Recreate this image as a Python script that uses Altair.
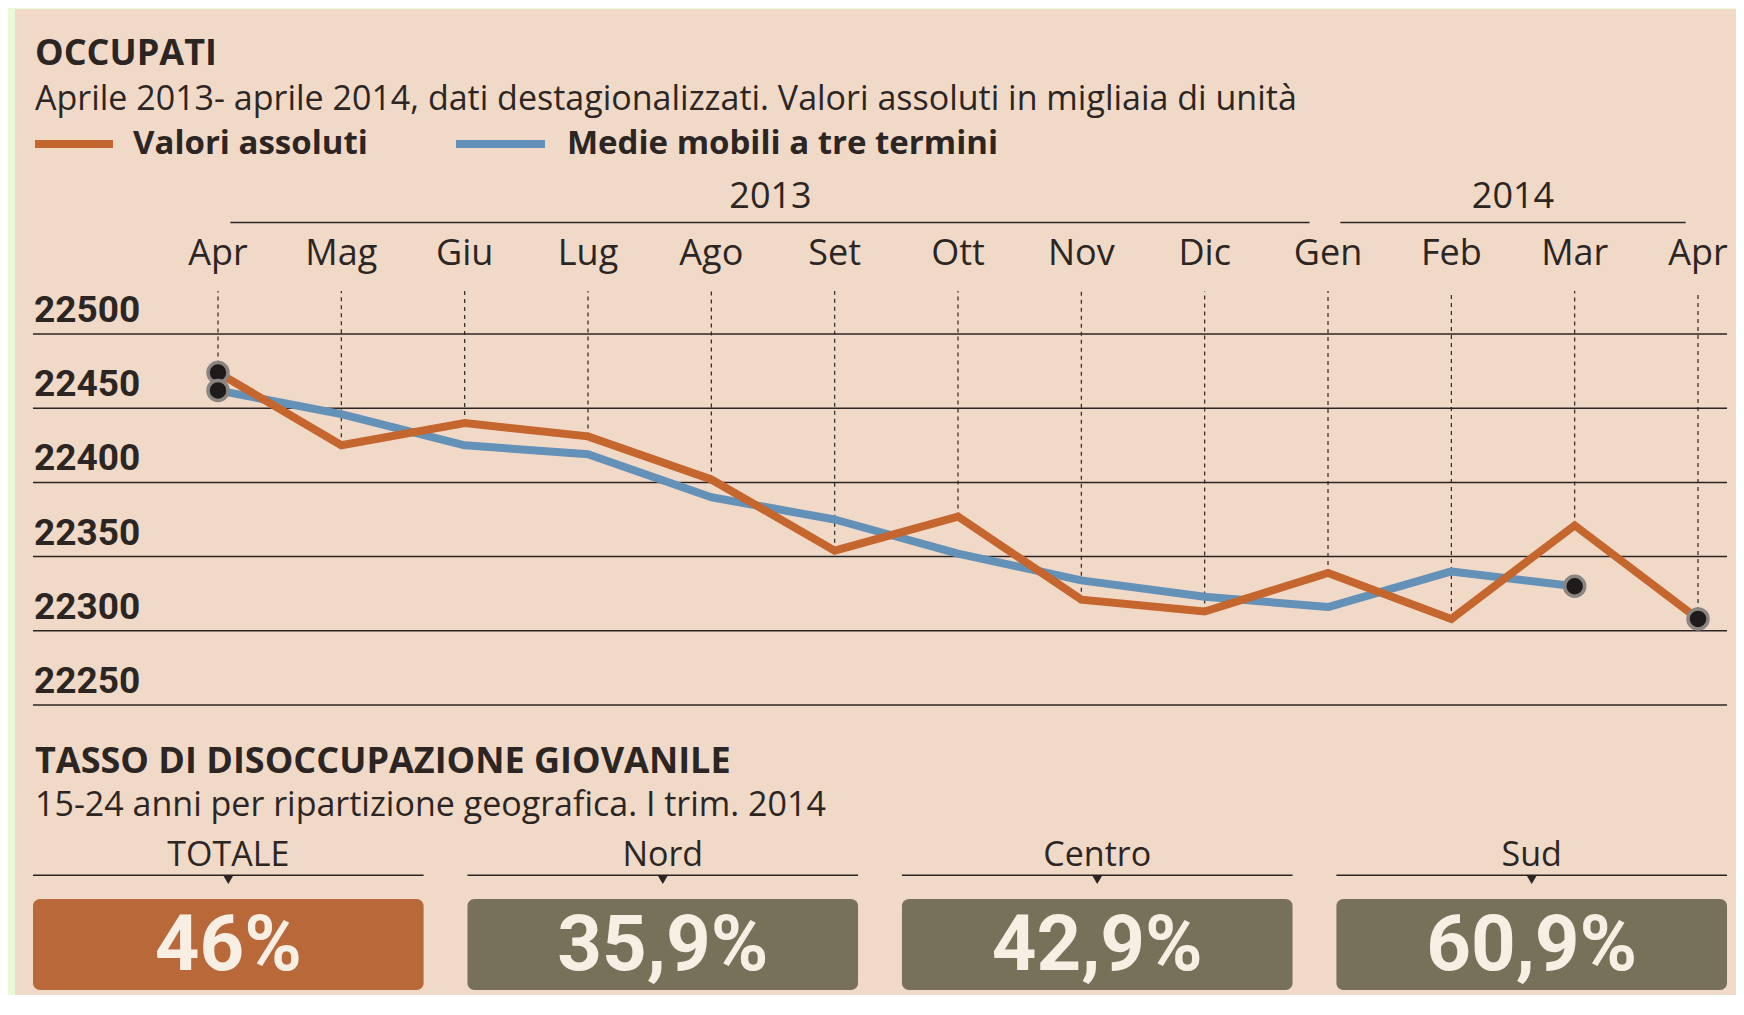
import altair as alt
import pandas as pd

# ---------------- data ----------------
months = ["Apr", "Mag", "Giu", "Lug", "Ago", "Set", "Ott", "Nov", "Dic", "Gen", "Feb", "Mar", "Apr"]
valori_assoluti = [22474, 22425, 22440, 22431, 22402, 22354, 22377, 22321, 22313, 22339, 22308, 22371, 22308]
medie_mobili = [22462, 22446, 22425, 22419, 22390, 22375, 22352, 22334, 22323, 22316, 22340, 22330]
y_ticks = [22250, 22300, 22350, 22400, 22450, 22500]
years = ["2013", "2014"]
year_start = [0.1, 9.1]
year_end = [8.85, 11.9]
year_center = [4.48, 10.5]

regions = ["TOTALE", "Nord", "Centro", "Sud"]
tassi = ["46%", "35,9%", "42,9%", "60,9%"]
tile_colors = ["#B9683A", "#77715A", "#77715A", "#77715A"]

# ---------------- layout ----------------
W, H = 1694, 371
PAD_L, PAD_T = 25, 326
PAD_R = 1728 - PAD_L - W
PAD_B = 987 - PAD_T - H

PAPER = "#F1D9C8"
GREEN = "#E8FAD6"
INK = "#2B2623"
ORANGE = "#C4662E"
BLUE = "#6491B8"
SANS = "Open Sans"
COND = "Roboto"

x_scale = alt.Scale(domain=[-1.5, 12.235], nice=False, zero=False)
y_scale = alt.Scale(domain=[22250, 22500], nice=False, zero=False)

one = pd.DataFrame({"a": [0]})

def label(text, x, y, size, bold=False, align="left", font=SANS, color=INK):
    return alt.Chart(one).mark_text(
        text=text, align=align, baseline="middle", fontSize=size,
        fontWeight="bold" if bold else "normal", font=font, color=color
    ).encode(x=alt.value(x), y=alt.value(y))

df_o = pd.DataFrame({"m": list(range(len(valori_assoluti))), "v": valori_assoluti, "mese": months})
df_b = pd.DataFrame({"m": list(range(len(medie_mobili))), "v": medie_mobili})
df_ticks = pd.DataFrame({"v": y_ticks, "lab": [str(t) for t in y_ticks]})
df_years = pd.DataFrame({"y": years, "s": year_start, "e": year_end, "c": year_center})
df_dots = pd.DataFrame({
    "m": [0, 0, len(medie_mobili) - 1, len(valori_assoluti) - 1],
    "v": [valori_assoluti[0], medie_mobili[0], medie_mobili[-1], valori_assoluti[-1]],
})
df_tiles = pd.DataFrame({"r": regions, "t": tassi, "c": tile_colors})

X = lambda f: alt.X(f, scale=x_scale, axis=None)
Y = lambda f: alt.Y(f, scale=y_scale, axis=None)

paper = alt.Chart(one).mark_rect(color=PAPER).encode(
    x=alt.value(-18), x2=alt.value(W + PAD_R), y=alt.value(-325), y2=alt.value(H + PAD_B))

grid = alt.Chart(df_ticks).mark_rule(color=INK, strokeWidth=1.5).encode(
    y=Y("v:Q"), x=alt.value(0), x2=alt.value(W))

ylabels = alt.Chart(df_ticks).mark_text(
    align="left", baseline="middle", dy=-23, dx=0, fontSize=37, fontWeight="bold",
    font=COND, color=INK).encode(y=Y("v:Q"), x=alt.value(1), text="lab:N")

dashes = alt.Chart(df_o).mark_rule(color=INK, strokeWidth=1.2, strokeDash=[4, 4]).encode(
    x=X("m:Q"), y=Y("v:Q"), y2=alt.value(-43))

mlabels = alt.Chart(df_o).mark_text(fontSize=36, font=SANS, color=INK, baseline="middle").encode(
    x=X("m:Q"), y=alt.value(-80), text="mese:N")

yrules = alt.Chart(df_years).mark_rule(color=INK, strokeWidth=1.5).encode(
    x=X("s:Q"), x2="e:Q", y=alt.value(-111.5))
ylab = alt.Chart(df_years).mark_text(fontSize=36, font=SANS, color=INK, baseline="middle").encode(
    x=X("c:Q"), y=alt.value(-137), text="y:N")

line_b = alt.Chart(df_b).mark_line(color=BLUE, strokeWidth=8, strokeJoin="round").encode(
    x=X("m:Q"), y=Y("v:Q"))
line_o = alt.Chart(df_o).mark_line(color=ORANGE, strokeWidth=8, strokeJoin="miter").encode(
    x=X("m:Q"), y=Y("v:Q"))
dots = alt.Chart(df_dots).mark_point(filled=True, shape="circle", size=400, color="#1E1B1A",
                                     stroke="#8A8580", strokeWidth=3.5, opacity=1).encode(
    x=X("m:Q"), y=Y("v:Q"))

# titles & legend
t1 = label("OCCUPATI", 2, -280, 36, bold=True)
t2 = label("Aprile 2013- aprile 2014, dati destagionalizzati. Valori assoluti in migliaia di unità", 2, -234, 34)
leg_o = alt.Chart(one).mark_rule(color=ORANGE, strokeWidth=8).encode(
    x=alt.value(2), x2=alt.value(80), y=alt.value(-190))
leg_b = alt.Chart(one).mark_rule(color=BLUE, strokeWidth=8).encode(
    x=alt.value(423), x2=alt.value(512), y=alt.value(-190))
leg_t1 = label("Valori assoluti", 100, -190, 33, bold=True)
leg_t2 = label("Medie mobili a tre termini", 534, -190, 33, bold=True)

b1 = label("TASSO DI DISOCCUPAZIONE GIOVANILE", 2, 428, 36, bold=True)
b2 = label("15-24 anni per ripartizione geografica. I trim. 2014", 2, 472, 34)

XR = alt.X("r:N", sort=regions, axis=None,
           scale=alt.Scale(paddingInner=0.101, paddingOuter=0))
tiles_base = alt.Chart(df_tiles)
tile_lab = tiles_base.mark_text(fontSize=34, font=SANS, color=INK, baseline="middle").encode(
    x=XR, y=alt.value(522), text="r:N")
tile_rule = tiles_base.mark_rect(color=INK).encode(x=XR, y=alt.value(540.5), y2=alt.value(542))
tile_tri = tiles_base.mark_point(shape="triangle-down", filled=True, size=90, color=INK, opacity=1).encode(
    x=XR, y=alt.value(546))
tile_box = tiles_base.mark_rect(cornerRadius=7).encode(
    x=XR, y=alt.value(565), y2=alt.value(656), color=alt.Color("c:N", scale=None))
tile_val = tiles_base.mark_text(fontSize=78, fontWeight="bold", font=COND, color="#F7EFE4",
                                baseline="middle", dy=3).encode(x=XR, y=alt.value(610), text="t:N")

top = alt.layer(paper, grid, ylabels, dashes, mlabels, yrules, ylab, line_b, line_o, dots,
                t1, t2, leg_o, leg_b, leg_t1, leg_t2, b1, b2)
bottom = alt.layer(tile_lab, tile_rule, tile_tri, tile_box, tile_val)

chart = alt.layer(top, bottom).resolve_scale(x="independent", y="independent").properties(
    width=W, height=H,
    padding={"left": PAD_L, "top": PAD_T, "right": PAD_R, "bottom": PAD_B},
    autosize=alt.AutoSizeParams(type="none"),
    background=GREEN,
).configure_view(stroke=None)

chart.save("out.html", embed_options={"renderer": "svg", "actions": False})
